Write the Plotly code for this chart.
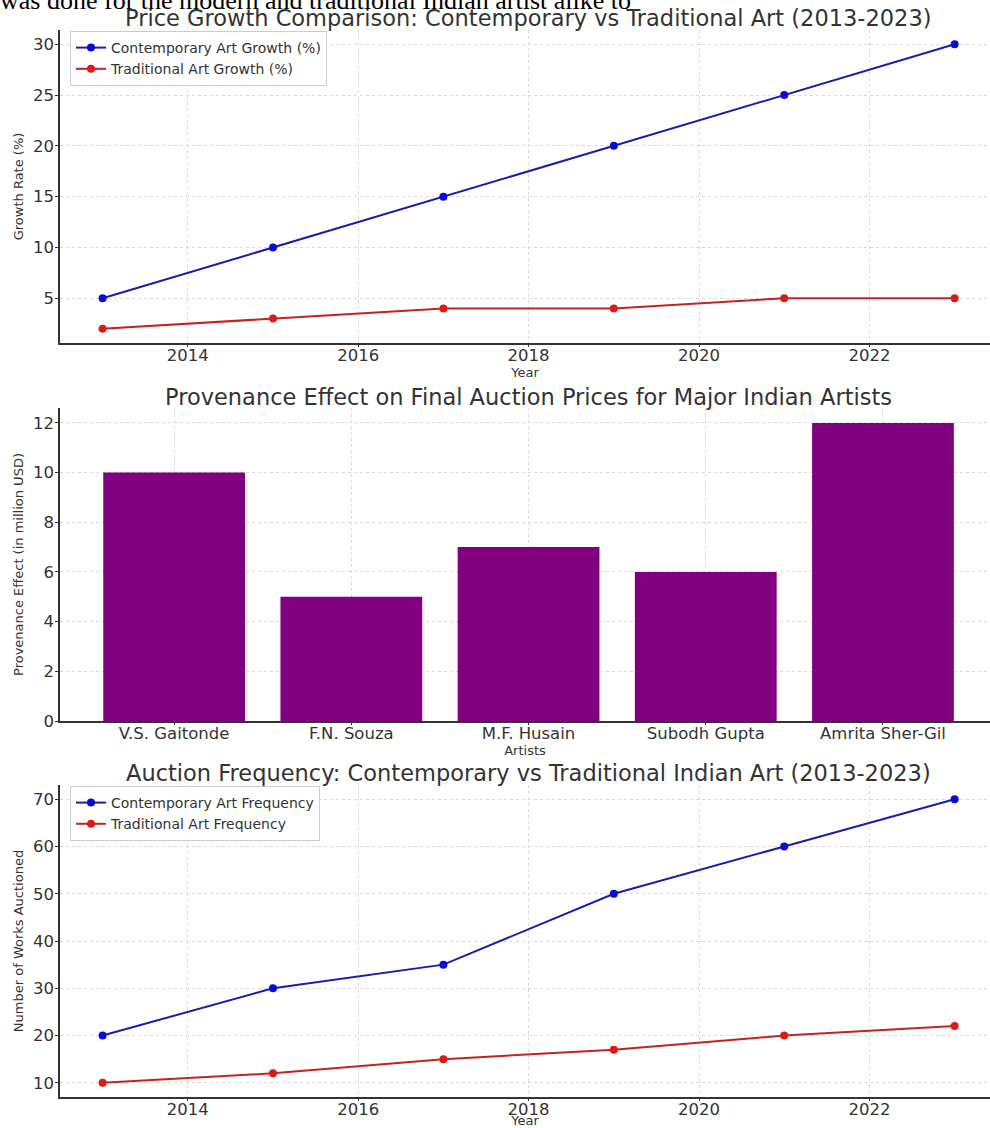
import plotly.graph_objects as go

W, H = 990, 1128

years = [2013, 2015, 2017, 2019, 2021, 2023]
contemporary_growth = [5, 10, 15, 20, 25, 30]
traditional_growth = [2, 3, 4, 4, 5, 5]

artists = ["V.S. Gaitonde", "F.N. Souza", "M.F. Husain", "Subodh Gupta", "Amrita Sher-Gil"]
provenance_effect = [10, 5, 7, 6, 12]

contemporary_freq = [20, 30, 35, 50, 60, 70]
traditional_freq = [10, 12, 15, 17, 20, 22]

FONT = "DejaVu Sans"
BLUE_LINE = "#1c1ca8"
BLUE_MK = "#0a0ad6"
RED_LINE = "#c42222"
RED_MK = "#dd1a1a"
PURPLE = "#800080"

def py(px):
    return 1 - px / H

fig = go.Figure()

fig.add_trace(go.Scatter(x=years, y=contemporary_growth, mode="lines+markers",
                         name="Contemporary Art Growth (%)",
                         line=dict(color=BLUE_LINE, width=2),
                         marker=dict(color=BLUE_MK, size=8),
                         xaxis="x", yaxis="y", legend="legend"))
fig.add_trace(go.Scatter(x=years, y=traditional_growth, mode="lines+markers",
                         name="Traditional Art Growth (%)",
                         line=dict(color=RED_LINE, width=2),
                         marker=dict(color=RED_MK, size=8),
                         xaxis="x", yaxis="y", legend="legend"))
fig.add_trace(go.Bar(x=artists, y=provenance_effect, marker=dict(color=PURPLE, line=dict(width=0)),
                     width=0.8, showlegend=False, xaxis="x2", yaxis="y2"))
fig.add_trace(go.Scatter(x=years, y=contemporary_freq, mode="lines+markers",
                         name="Contemporary Art Frequency",
                         line=dict(color=BLUE_LINE, width=2),
                         marker=dict(color=BLUE_MK, size=8),
                         xaxis="x3", yaxis="y3", legend="legend2"))
fig.add_trace(go.Scatter(x=years, y=traditional_freq, mode="lines+markers",
                         name="Traditional Art Frequency",
                         line=dict(color=RED_LINE, width=2),
                         marker=dict(color=RED_MK, size=8),
                         xaxis="x3", yaxis="y3", legend="legend2"))

xdom = [60 / W, 1.0]
axis_common = dict(showline=True, linecolor="#333333", linewidth=1.5, ticks="outside",
                   tickcolor="#333333", showgrid=True, gridcolor="#d9d9d9",
                   griddash="3px,3px", gridwidth=1, zeroline=False, automargin=False,
                   tickfont=dict(family=FONT, size=16.5, color="#333333"))
xaxis_extra = dict(ticklen=2, ticklabelstandoff=-6)
yaxis_extra = dict(ticklen=3, ticklabelstandoff=-2)
title_font = dict(family=FONT, size=13, color="#333333")

fig.update_layout(
    width=W, height=H, margin=dict(l=0, r=0, t=0, b=0),
    plot_bgcolor="white", paper_bgcolor="white",
    xaxis=dict(domain=xdom, range=[2012.5, 2023.415], tickvals=[2014, 2016, 2018, 2020, 2022],
               anchor="y", title=dict(text="Year", font=title_font, standoff=0), **axis_common, **xaxis_extra),
    yaxis=dict(domain=[py(343), py(30)], range=[0.6, 31.4], tickvals=[5, 10, 15, 20, 25, 30],
               anchor="x", title=dict(text="Growth Rate (%)", font=title_font, standoff=6),
               **axis_common, **yaxis_extra),
    xaxis2=dict(domain=xdom, range=[-0.644, 4.604], anchor="y2",
                title=dict(text="Artists", font=title_font, standoff=0), **axis_common, **xaxis_extra),
    yaxis2=dict(domain=[py(721), py(408)], range=[0, 12.6], tickvals=[0, 2, 4, 6, 8, 10, 12],
                anchor="x2", title=dict(text="Provenance Effect (in million USD)", font=title_font, standoff=6),
                **axis_common, **yaxis_extra),
    xaxis3=dict(domain=xdom, range=[2012.5, 2023.415], tickvals=[2014, 2016, 2018, 2020, 2022],
                anchor="y3", title=dict(text="Year", font=title_font, standoff=0), **axis_common, **xaxis_extra),
    yaxis3=dict(domain=[py(1097), py(785)], range=[7, 73], tickvals=[10, 20, 30, 40, 50, 60, 70],
                anchor="x3", title=dict(text="Number of Works Auctioned", font=title_font, standoff=6),
                **axis_common, **yaxis_extra),
    legend=dict(x=70 / W, y=py(31), xanchor="left", yanchor="top", bgcolor="rgba(255,255,255,0.85)",
                bordercolor="#cccccc", borderwidth=1, font=dict(family=FONT, size=14, color="#333333"),
                tracegroupgap=0, itemwidth=30),
    legend2=dict(x=70 / W, y=py(786), xanchor="left", yanchor="top", bgcolor="rgba(255,255,255,0.85)",
                 bordercolor="#cccccc", borderwidth=1, font=dict(family=FONT, size=14, color="#333333"),
                 tracegroupgap=0, itemwidth=30),
    bargap=0.2,
)

titles = [
    ("Price Growth Comparison: Contemporary vs Traditional Art (2013-2023)", 18),
    ("Provenance Effect on Final Auction Prices for Major Indian Artists", 397),
    ("Auction Frequency: Contemporary vs Traditional Indian Art (2013-2023)", 773),
]
for text, ypx in titles:
    fig.add_annotation(text=text, x=528 / W, y=py(ypx), xref="paper", yref="paper",
                       xanchor="center", yanchor="middle", showarrow=False,
                       font=dict(family=FONT, size=22.5, color="#333333"))

fig.add_annotation(text="was done for the modern and traditional Indian artist alike to",
                   x=-2 / W, y=py(17.5), xref="paper", yref="paper", xanchor="left", yanchor="bottom",
                   showarrow=False, font=dict(family="Liberation Serif", size=26, color="black"))

fig.write_html("out.html", config={"displayModeBar": False},
               post_script="document.body.style.margin='0';")
